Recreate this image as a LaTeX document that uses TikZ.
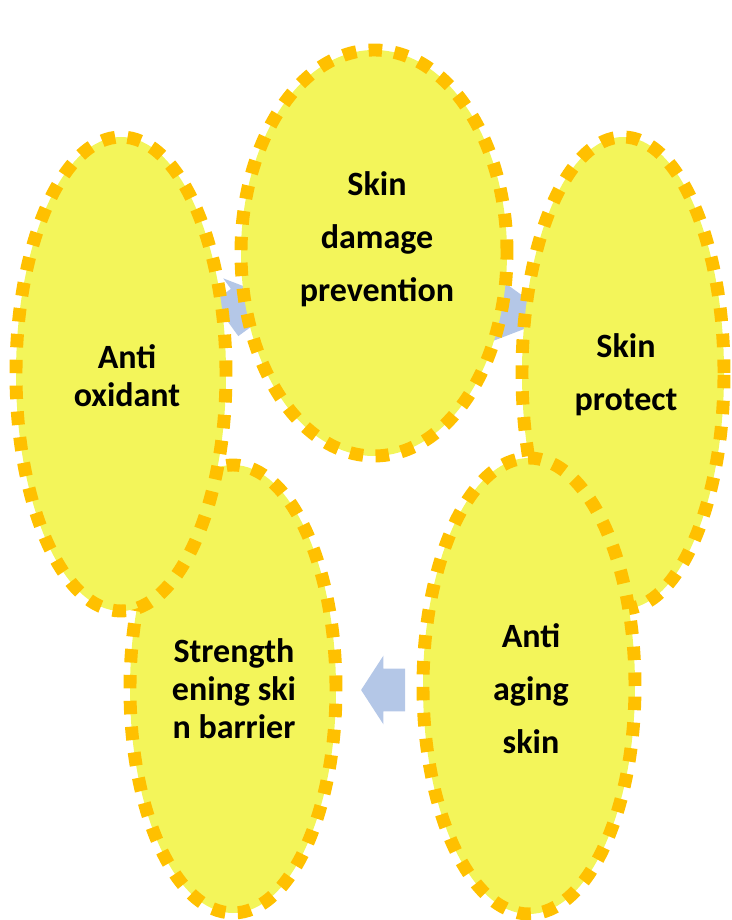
\documentclass[tikz,border=0pt]{standalone}
\usepackage{fontspec}
\setmainfont{Carlito}
\usetikzlibrary{shapes.geometric,shapes.arrows}
\definecolor{bubblefill}{RGB}{243,245,90}
\definecolor{bubbleline}{RGB}{255,192,0}
\definecolor{arrowfill}{RGB}{180,199,231}
\begin{document}
\begin{tikzpicture}[
  bubble/.style={ellipse, fill=bubblefill, draw=bubbleline, line width=9.2pt, dash pattern=on 9.6pt off 8.8pt, inner sep=0pt},
  cyclearrow/.style={single arrow, fill=arrowfill, inner xsep=0pt, inner ysep=0.525cm, single arrow head extend=0.325cm, single arrow tip angle=114, single arrow head indent=0pt, minimum height=1.100cm},
  widelines/.style={align=center, font=\bfseries\fontsize{24.2}{37.7}\selectfont},
  narrowlines/.style={align=center, font=\bfseries\fontsize{24.2}{27.0}\selectfont}]
\useasboundingbox (0,0) rectangle (18.300,23.000);
\node[cyclearrow, rotate=-36] (a1) at (12.650,15.250) {};
\node[cyclearrow, rotate=-108] (a2) at (13.625,9.750) {};
\node[cyclearrow, rotate=180] (a3) at (9.750,5.750) {};
\node[cyclearrow, rotate=108] (a4) at (5.000,9.800) {};
\node[cyclearrow, rotate=36] (a5) at (5.950,15.250) {};
\node[bubble, minimum width=6.650cm, minimum height=10.150cm] (dmg) at (9.350,16.675) {};
\node[bubble, minimum width=5.050cm, minimum height=11.800cm] (prot) at (15.575,13.675) {};
\node[bubble, minimum width=5.300cm, minimum height=11.400cm] (aging) at (13.225,5.850) {};
\node[bubble, minimum width=5.150cm, minimum height=11.200cm] (barr) at (5.825,5.775) {};
\node[bubble, minimum width=5.250cm, minimum height=11.850cm] (oxid) at (3.025,13.650) {};
\node[widelines] (dmgtext) at (9.425,17.025) {Skin\\damage\\prevention};
\node[widelines] (prottext) at (15.650,13.625) {Skin\\protect};
\node[widelines] (agingtext) at (13.275,5.775) {Anti\\aging\\skin};
\node[narrowlines] (barrtext) at (5.850,5.775) {Strength\\ening ski\\n barrier};
\node[narrowlines] (oxidtext) at (3.175,13.600) {Anti\\oxidant};
\end{tikzpicture}
\end{document}
